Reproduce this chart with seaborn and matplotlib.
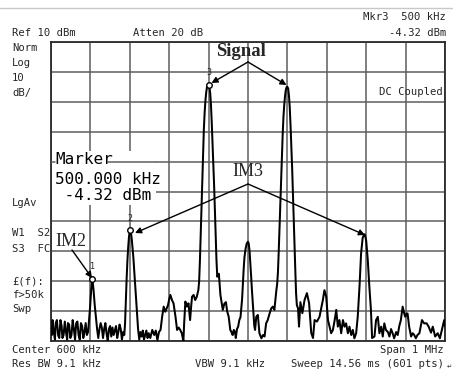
import matplotlib
matplotlib.use("Agg")
import matplotlib.pyplot as plt
import seaborn as sns
import pandas as pd
from matplotlib.lines import Line2D
from matplotlib.patches import Rectangle

# ---------------- data ----------------
trace_freq_khz = [
    100, 102, 104, 107, 110, 112, 115, 118, 121, 124, 127, 129, 132, 135, 138, 141, 143, 146, 149, 152,
    155, 158, 161, 164, 167, 170, 173, 176, 179, 182, 185, 188, 191,
    194, 196, 199, 202, 205, 208, 211, 214, 217, 220,
    223, 226, 229, 232, 235, 238, 241, 244, 247, 250, 253, 256, 259, 262, 265, 268, 271, 274, 277, 280, 283,
    286, 288, 290, 292, 294, 296, 298, 300, 301, 303, 305, 307, 309, 311, 313, 315, 318, 321, 324,
    327, 330, 333, 336, 339, 342, 345, 348, 352, 357, 362, 366, 370, 374, 378, 382, 386, 390, 394, 397,
    400, 403, 407, 411, 414, 416, 420, 424, 428, 432, 436, 438, 441, 445, 449, 453, 456, 458, 462, 466, 470,
    474, 476, 478, 480, 482, 484, 486, 488, 490, 492, 494, 496, 498, 500,
    502, 504, 506, 508, 510, 512, 514, 516, 518, 520, 522, 524, 526, 528, 530, 533, 536, 540, 544, 547,
    551, 555, 558, 561, 564, 567, 569, 572, 575, 578, 581, 583,
    585, 587, 589, 591, 594, 597, 600, 602, 604, 606, 608, 610, 613, 616,
    618, 621, 625, 629, 634, 638, 642, 646, 650, 655, 659, 663, 667, 672,
    674, 676, 678, 680, 682, 684, 686, 688, 690, 692, 694, 696, 698, 700,
    702, 704, 706, 708, 710, 712, 714, 716, 718, 720, 722, 724, 727, 729.5, 733, 738, 743.5, 749.5,
    755, 760.5, 765, 769, 775, 781.5, 790, 794, 798.5, 803, 807, 811, 815.5, 820, 824, 828, 832,
    836.5, 841, 845, 849, 853.5, 857.5, 862, 866, 870, 874.5, 878.5, 883, 887, 891, 895, 897, 900,
    904, 908, 912, 915, 921, 925, 929.5, 933.5, 938, 942, 946, 950, 955, 959, 963, 967, 971, 976,
    980, 984, 988, 992.5, 996, 999, 1003, 1005, 1009, 1014, 1018, 1022, 1026, 1030, 1035, 1041.5,
    1047, 1053.5, 1058.5, 1064.5, 1069, 1075, 1081.5, 1087, 1094, 1098, 1100,
]
trace_level_dbm = [
    -86, -88, -83, -87, -89.5, -84, -83, -88, -89, -83, -85, -89, -88, -83.5, -87, -89.5, -84, -84.5, -89, -88,
    -83, -86, -89.5, -84, -83.5, -88, -89.5, -84, -85, -89, -87, -84, -88,
    -87, -84, -79, -73, -69.3, -73, -78, -82, -86, -89,
    -86, -84, -85.5, -89, -86, -84, -87.5, -90, -86, -85, -88.5, -85.5, -88, -86.5, -85, -89, -87, -84.5, -86, -89.5, -87,
    -88, -84, -76, -69, -63, -58.5, -55, -53.2, -53, -53.8, -56, -59, -62, -66, -70, -74, -80, -86, -89.5,
    -87, -88.5, -86.5, -89.5, -88, -86.5, -89, -87.4, -89, -86.3, -88, -86.5, -89.7, -87, -86.3, -82, -78.5, -80.2, -79, -78,
    -76, -74.6, -76.3, -77.4, -80, -81.9, -86.3, -85.5, -86.3, -87.4, -90, -84, -76.8, -78.5, -77.4, -83, -78, -75.2, -74.6, -76.3, -75.2,
    -73, -70, -63, -54, -44, -35, -27, -19, -13.5, -9.5, -6.8, -5, -4.32, -4.32,
    -5, -7, -11, -17, -24, -31, -38, -46, -55, -63, -68.5, -68, -67.5, -71, -74.6, -77, -79.6, -77.5, -77, -80,
    -81.9, -86.3, -87, -88, -86.3, -87, -89, -86, -85.2, -83, -82, -79,
    -76, -71, -66, -62, -59, -57.3, -56.8, -57.5, -60, -64, -68.5, -73, -79, -85,
    -86.3, -81.9, -81.3, -87.4, -89.1, -88, -88.5, -84.1, -83, -80.7, -79.1, -78.5, -79.6, -73,
    -71, -67, -60, -52, -44, -36, -28, -21, -15, -11, -8, -6, -5.1, -5.0,
    -5.6, -8, -12, -18, -25, -32, -40, -49, -58, -66, -74, -78, -79.1, -85.2, -77, -80.7, -76.3, -74,
    -77.3, -87.3, -89, -83, -83.5, -81.9, -76.3, -73, -75.2, -83, -85.2, -87.4, -86.3, -83, -79.6, -85.2, -83,
    -87.4, -83, -85.2, -84.1, -87.4, -85.2, -88, -86.3, -89.1, -87.4, -81.9, -71.8, -60.7, -55.5, -54.3, -54.5, -56.5,
    -62.9, -71.8, -79.6, -89, -88.5, -83, -81.9, -87.4, -85.2, -88.5, -84.1, -86.3, -87, -88.5, -86, -87.4, -89.1, -87,
    -88, -85, -83, -78.5, -80.5, -81.9, -80.8, -80.8, -85.2, -88.5, -87.4, -88, -89.1, -88, -87.4, -83,
    -84.1, -84.1, -85.2, -87.2, -85.2, -88.5, -87.4, -89.1, -85.2, -83, -85,
]

marker_freq_khz = [205, 300, 500]
marker_level_dbm = [-69.3, -53.0, -4.32]
marker_labels = ["1", "2", "3"]

signal_freq_khz = [500, 700]
signal_level_dbm = [-4.32, -5.0]
im3_freq_khz = [300, 900]
im3_level_dbm = [-53.0, -54.3]
im2_freq_khz = [205]
im2_level_dbm = [-69.3]

freq_start_khz, freq_stop_khz = 100, 1100
ref_level_dbm, bottom_level_dbm = 10, -90
x_grid_khz = list(range(100, 1101, 100))
y_grid_dbm = list(range(-90, 11, 10))

header_left = "Ref 10 dBm"
header_mid = "Atten 20 dB"
header_right_top = "Mkr3  500 kHz"
header_right = "-4.32 dBm"
side_labels = [("Norm", 48), ("Log", 63), ("10", 78), ("dB/", 93), ("LgAv", 203),
               ("W1  S2", 233), ("S3  FC", 249), ("£(f):", 281), ("f>50k", 295), ("Swp", 309)]
marker_box_lines = ["Marker", "500.000 kHz", " -4.32 dBm"]
footer_left = ["Center 600 kHz", "Res BW 9.1 kHz"]
footer_mid = "VBW 9.1 kHz"
footer_right = ["Span 1 MHz", "Sweep 14.56 ms (601 pts)"]

# ---------------- figure ----------------
sns.set_theme(style="white")
plt.rcParams["font.family"] = ["DejaVu Sans Mono", "DejaVu Sans"]

W, H = 453, 376
fig = plt.figure(figsize=(W / 100, H / 100), dpi=100)
fig.patch.set_facecolor("white")
L, T, R, B = 51, 42, 445, 341
ax = fig.add_axes([L / W, 1 - B / H, (R - L) / W, (B - T) / H])


def fp(x, y):
    return x / W, 1 - y / H


def dx(px):
    return freq_start_khz + (px - L) / (R - L) * (freq_stop_khz - freq_start_khz)


def dy(py):
    return ref_level_dbm - (py - T) / (B - T) * (ref_level_dbm - bottom_level_dbm)


df = pd.DataFrame({"freq": trace_freq_khz, "level": trace_level_dbm})
sns.lineplot(data=df, x="freq", y="level", ax=ax, color="black", lw=1.45,
             sort=False, zorder=5)

ax.set_xlim(freq_start_khz, freq_stop_khz)
ax.set_ylim(bottom_level_dbm, ref_level_dbm)
ax.set_xticks(x_grid_khz)
ax.set_yticks(y_grid_dbm)
ax.tick_params(length=0, labelbottom=False, labelleft=False)
ax.set_xlabel("")
ax.set_ylabel("")
grid_col = "#5e5e5e"
ax.grid(True, color=grid_col, lw=1.1, zorder=0)
ax.set_axisbelow(True)
for s in ax.spines.values():
    s.set_color("#2a2a2a")
    s.set_linewidth(1.3)

# marker text block (white background over grid)
ax.add_patch(Rectangle((dx(L + 1), dy(205)), dx(156) - dx(L + 1), dy(151) - dy(205),
                       facecolor="white", edgecolor="none", zorder=2))
ax.plot([dx(L), dx(55)], [dy(162), dy(162)], color=grid_col, lw=1.1, zorder=3)
ax.plot([dx(108), dx(156)], [dy(162), dy(162)], color=grid_col, lw=1.1, zorder=3)
for txt, py in zip(marker_box_lines, [160, 179, 196]):
    ax.text(dx(55), dy(py), txt, fontsize=11.5, va="center", ha="left",
            color="black", zorder=4)

# markers
ax.plot(marker_freq_khz, marker_level_dbm, ls="none", marker="o", ms=4.0,
        mfc="white", mec="black", mew=1.0, zorder=6)
for f, l, lab in zip(marker_freq_khz, marker_level_dbm, marker_labels):
    ax.annotate(lab, (f, l), xytext=(0, 5.5), textcoords="offset points",
                ha="center", va="bottom", fontsize=6, zorder=7)

# annotations
serif = ["Liberation Serif", "DejaVu Serif"]
ax.text(dx(241), dy(51), "Signal", fontsize=13.5, fontweight="bold",
        family=serif, ha="center", va="center", zorder=7)
ax.text(dx(248), dy(171), "IM3", fontsize=13, family=serif, ha="center",
        va="center", zorder=7)
ax.text(dx(71), dy(241), "IM2", fontsize=13, family=serif, ha="center",
        va="center", zorder=7)

arrow = dict(arrowstyle="-|>", color="black", lw=1.0, mutation_scale=9,
             shrinkA=0, shrinkB=0)
ax.annotate("", xy=(dx(211.5), dy(83)), xytext=(dx(248), dy(62)), arrowprops=arrow, zorder=7)
ax.annotate("", xy=(dx(286.5), dy(85)), xytext=(dx(248), dy(62)), arrowprops=arrow, zorder=7)
ax.annotate("", xy=(dx(135), dy(233)), xytext=(dx(248), dy(184)), arrowprops=arrow, zorder=7)
ax.annotate("", xy=(dx(365), dy(235)), xytext=(dx(248), dy(184)), arrowprops=arrow, zorder=7)
ax.annotate("", xy=(dx(92), dy(278)), xytext=(dx(72), dy(250)), arrowprops=arrow, zorder=7)

# instrument text
fs = 7.6
fig.text(*fp(12, 33), header_left, fontsize=fs, va="center", ha="left")
fig.text(*fp(133, 33), header_mid, fontsize=fs, va="center", ha="left")
fig.text(*fp(446, 17), header_right_top, fontsize=fs, va="center", ha="right")
fig.text(*fp(446, 33), header_right, fontsize=fs, va="center", ha="right")
for txt, py in side_labels:
    fig.text(*fp(12, py), txt, fontsize=fs, va="center", ha="left")
fig.text(*fp(443, 92), "DC Coupled", fontsize=fs, va="center", ha="right")
fig.text(*fp(12, 350), footer_left[0], fontsize=fs, va="center", ha="left")
fig.text(*fp(12, 364), footer_left[1], fontsize=fs, va="center", ha="left")
fig.text(*fp(195, 364), footer_mid, fontsize=fs, va="center", ha="left")
fig.text(*fp(444, 350), footer_right[0], fontsize=fs, va="center", ha="right")
fig.text(*fp(444, 364), footer_right[1], fontsize=fs, va="center", ha="right")
fig.text(*fp(449, 367), "\u21b5", fontsize=4.5, va="center", ha="center", family="DejaVu Sans")

fig.add_artist(Line2D([0, 1], [1 - 8 / H, 1 - 8 / H], color="#c8c8c8", lw=1.0))

fig.savefig("out.png", dpi=100, facecolor="white")
